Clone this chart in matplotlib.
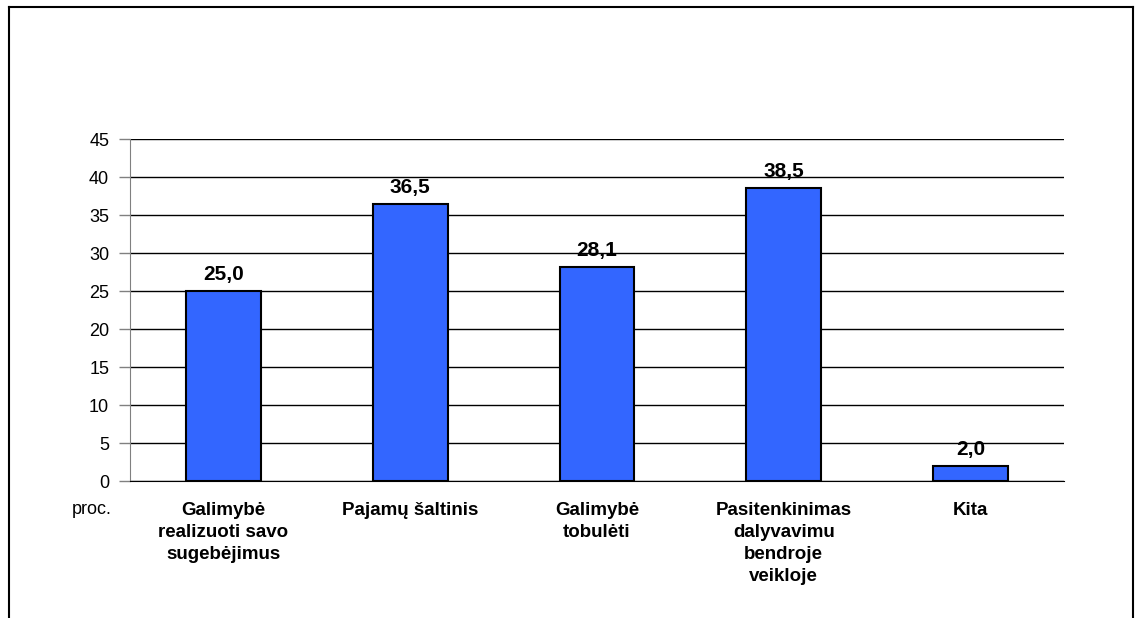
import numpy as np
import matplotlib.pyplot as plt
from matplotlib.lines import Line2D

plt.rcParams['font.family'] = ['Liberation Sans', 'DejaVu Sans']

categories = ['Galimybė\nrealizuoti savo\nsugebėjimus', 'Pajamų šaltinis',
              'Galimybė\ntobulėti', 'Pasitenkinimas\ndalyvavimu\nbendroje\nveikloje',
              'Kita']
values = [25.0, 36.5, 28.1, 38.5, 2.0]
yticks = [0, 5, 10, 15, 20, 25, 30, 35, 40, 45]

fig = plt.figure(figsize=(11.35, 6.18), dpi=100)
ax = fig.add_axes([130/1135, 1-481/618, (1064-130)/1135, (481-139)/618])

x = np.arange(len(values))
ax.bar(x, values, width=0.4, color='#3366FF', edgecolor='black', linewidth=1.5, zorder=3)
for xi, v in zip(x, values):
    ax.text(xi, v + 1.45, '{:.1f}'.format(v).replace('.', ','), ha='center', va='baseline',
            fontsize=15, fontweight='bold')

ax.set_xlim(-0.5, 4.5)
ax.set_ylim(0, 45)
ax.set_yticks(yticks)
ax.tick_params(axis='y', labelsize=13, length=8, width=1, color='#808080', pad=7)
ax.tick_params(axis='x', length=0, pad=0)
ax.set_xticks(x)
ax.set_xticklabels([])
ax.grid(axis='y', color='black', linewidth=1, zorder=0)
for side in ('top', 'right'):
    ax.spines[side].set_visible(False)
ax.spines['left'].set_color('#808080')
ax.spines['bottom'].set_color('black')
ax.spines['bottom'].set_zorder(4)

for xi, lab in zip(x, categories):
    ax.text(xi, -2.7, lab, ha='center', va='top', fontsize=13.5, fontweight='bold',
            linespacing=1.4, transform=ax.transData)
ax.text(-0.6, -3.8, 'proc.', ha='right', va='center', fontsize=13)

# outer frame
fig.add_artist(Line2D([9/1135, 9/1135], [0, 1-7/618], color='black', lw=1.5))
fig.add_artist(Line2D([9/1135, 1133/1135], [1-7/618, 1-7/618], color='black', lw=1.5))
fig.add_artist(Line2D([1133/1135, 1133/1135], [0, 1-7/618], color='black', lw=1.5))

fig.savefig('out.png', dpi=100)
